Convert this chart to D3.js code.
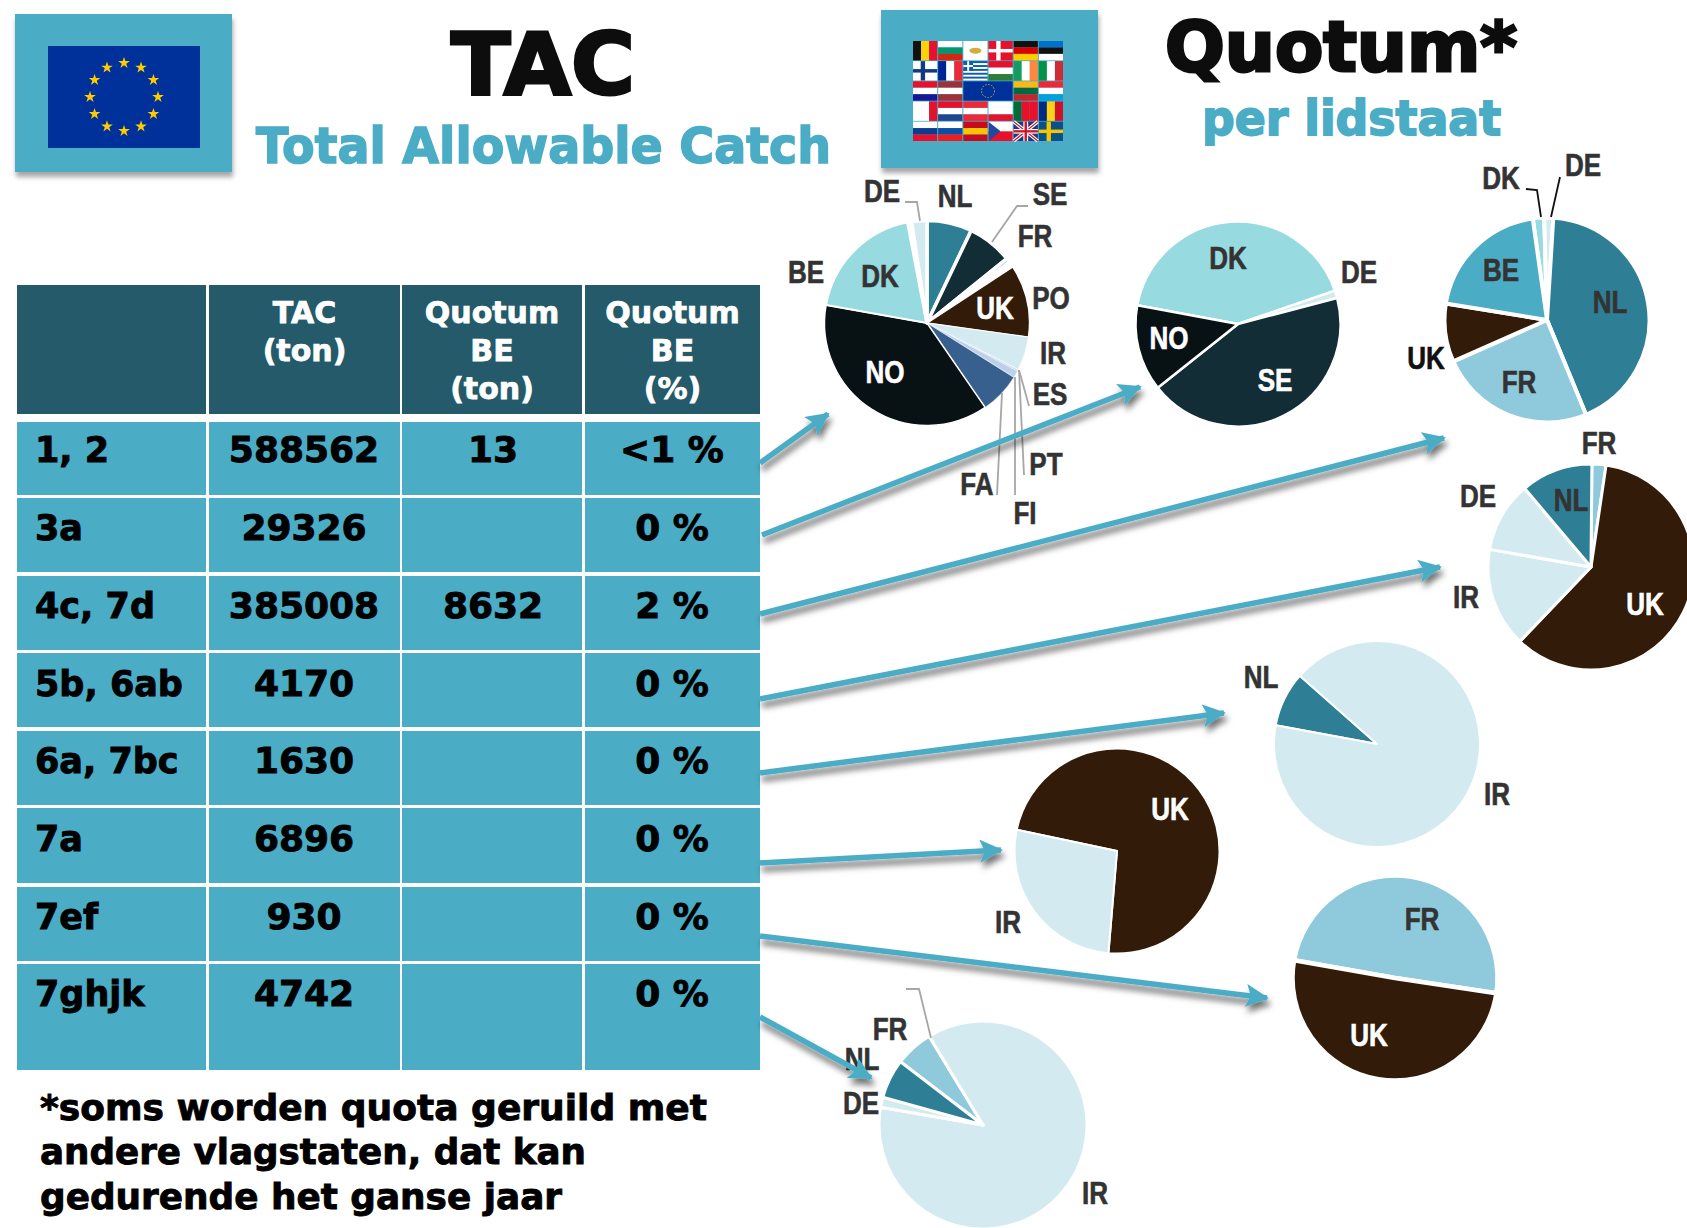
<!DOCTYPE html>
<html>
<head>
<meta charset="utf-8">
<title>TAC en Quotum</title>
<script src="https://cdn.jsdelivr.net/npm/d3@7"></script>
<style>
  html, body { margin: 0; padding: 0; background: #fff; overflow: hidden; }
  svg { display: block; }
  text { font-family: "DejaVu Sans", sans-serif; font-weight: bold; }
  .pieLabel { font-family: "Liberation Sans", sans-serif; font-size: 31px; text-anchor: middle; }
</style>
</head>
<body>
<div class="exampleChart"></div>
<script>
// Table contents
const rowLabels = ["1, 2", "3a", "4c, 7d", "5b, 6ab", "6a, 7bc", "7a", "7ef", "7ghjk"];
const tacTon = ["588562", "29326", "385008", "4170", "1630", "6896", "930", "4742"];
const quotumTon = ["13", "", "8632", "", "", "", "", ""];
const quotumPct = ["<1 %", "0 %", "2 %", "0 %", "0 %", "0 %", "0 %", "0 %"];

// Share per member state (%), clockwise as they appear in each pie
const pie1Labels = ["NL", "SE", "FR", "PO", "UK", "IR", "ES", "PT", "FI", "FA", "NO", "DK", "BE", "DE"];
const pie1Values = [7.1, 7.1, 0.7, 0.9, 11.4, 5.3, 0.1, 0.2, 1.1, 6.5, 37.4, 19.2, 0.6, 2.4];
const pie2Labels = ["DK", "DE", "SE", "NO"];
const pie2Values = [41.8, 1.2, 43.4, 13.6];
const pie3Labels = ["DK", "DE", "NL", "FR", "UK", "BE"];
const pie3Values = [1.8, 1.4, 42.8, 24.6, 9.2, 20.2];
const pie4Labels = ["FR", "UK", "IR", "DE", "NL"];
const pie4Values = [2.2, 59.8, 15.6, 11.1, 11.3];
const pie5Labels = ["NL", "IR"];
const pie5Values = [8.6, 91.4];
const pie6Labels = ["UK", "IR"];
const pie6Values = [73, 27];
const pie7Labels = ["FR", "UK"];
const pie7Values = [49.6, 50.4];
const pie8Labels = ["FR", "IR", "DE", "NL"];
const pie8Values = [5.9, 86.4, 1.6, 6.1];

const sliceColor = {
  NL: "#2e7f96", SE: "#132d37", FR: "#8ecadc", PO: "#ffffff", UK: "#321c09", IR: "#d4eaf1",
  ES: "#d4eaf1", PT: "#bcd0ec", FI: "#bcd0ec", FA: "#38608f", NO: "#081114", DK: "#97dadf",
  DE: "#d4eaf1", BE: "#4bacc6"
};

const svg = d3.select(".exampleChart").append("svg")
  .attr("width", 1687)
  .attr("height", 1228)
  .attr("viewBox", "0 0 1687 1228");

// Drop shadow for the squares and arrows
const defs = svg.append("defs");
defs.append("filter")
  .attr("id", "shadow")
  .attr("x", "-20%").attr("y", "-20%").attr("width", "140%").attr("height", "150%")
  .attr("filterUnits", "objectBoundingBox")
  .append("feDropShadow")
  .attr("dx", 1).attr("dy", 5).attr("stdDeviation", 2.5)
  .attr("flood-color", "#000").attr("flood-opacity", 0.35);

defs.append("filter")
  .attr("id", "arrowShadow")
  .attr("filterUnits", "userSpaceOnUse")
  .attr("x", 0).attr("y", 0).attr("width", 1687).attr("height", 1228)
  .append("feDropShadow")
  .attr("dx", 2).attr("dy", 6).attr("stdDeviation", 3)
  .attr("flood-color", "#000").attr("flood-opacity", 0.55);

defs.append("marker")
  .attr("id", "head")
  .attr("viewBox", "0 0 12 12")
  .attr("refX", 11).attr("refY", 6)
  .attr("markerWidth", 4.2).attr("markerHeight", 4.2)
  .attr("markerUnits", "strokeWidth")
  .attr("orient", "auto")
  .append("path")
  .attr("d", "M0,0L12,6L0,12L2.5,6Z")
  .attr("fill", "#4bacc6");

// Helper for text that has to fit a given width, thickened with a thin stroke
function label(x, y, str, size, fill, width, anchor) {
  const t = svg.append("text")
    .attr("x", x).attr("y", y)
    .attr("font-size", size)
    .attr("fill", fill)
    .attr("stroke", fill)
    .attr("stroke-width", size * 0.025)
    .attr("text-anchor", anchor || "start")
    .text(str);
  if (width) t.attr("textLength", width).attr("lengthAdjust", "spacingAndGlyphs");
  return t;
}

// Header squares
svg.append("rect").attr("x", 15).attr("y", 14).attr("width", 217).attr("height", 158)
  .attr("fill", "#4bacc6").attr("filter", "url(#shadow)");
svg.append("rect").attr("x", 881).attr("y", 10).attr("width", 217).attr("height", 158)
  .attr("fill", "#4bacc6").attr("filter", "url(#shadow)");

// EU flag
svg.append("rect").attr("x", 48).attr("y", 46).attr("width", 152).attr("height", 102).attr("fill", "#00309a");
const star = d3.symbol().type(d3.symbolStar).size(42);
svg.append("g").attr("transform", "translate(124,97)")
  .selectAll("path").data(d3.range(12)).join("path")
  .attr("d", star)
  .attr("fill", "#ffcc00")
  .attr("transform", d => {
    const a = d * Math.PI / 6;
    return `translate(${34 * Math.sin(a)},${-34 * Math.cos(a)})`;
  });

// Flags of the member states
const flagRows = [
  [["v", "#111", "#fbd20c", "#e8112d"], ["h", "#fff", "#00966e", "#d62612"], ["cy", "#fff"], ["dk", "#e8112d"], ["h", "#111", "#dd0000", "#ffce00"], ["h", "#0072ce", "#111", "#fff"]],
  [["fi", "#fff"], ["v", "#002395", "#fff", "#ed2939"], ["gr", "#0d5eaf"], ["h", "#e8112d", "#fff", "#2f7d3a"], ["v", "#169b62", "#fff", "#ff883e"], ["v", "#009246", "#fff", "#ce2b37"]],
  [["h", "#e8112d", "#fff", "#171796"], ["h", "#9e3039", "#fff", "#9e3039"], ["eu", "#00309a"], null, ["h", "#fdb913", "#006a44", "#c1272d"], ["h", "#ed2939", "#fff", "#00a1de"]],
  [["v", "#fff", "#fff", "#e8112d"], ["h", "#e8112d", "#fff", "#21468b"], ["h", "#ed2939", "#fff", "#ed2939"], ["h", "#fff", "#fff", "#e8112d"], ["v", "#046a38", "#e8112d", "#e8112d"], ["v", "#002b7f", "#fcd116", "#ce1126"]],
  [["h", "#fff", "#0f3b8e", "#e8112d"], ["h", "#fff", "#0b4ea2", "#ee1c25"], ["h", "#c60b1e", "#ffc400", "#c60b1e"], ["cz", "#fff"], ["uk", "#1f3a7d"], ["se", "#0a5189"]]
];
const flagX = d3.scaleBand().domain(d3.range(6)).range([913, 1063]).paddingInner(0.04);
const flagY = d3.scaleBand().domain(d3.range(5)).range([41, 141]).paddingInner(0.04);

flagRows.forEach((row, r) => {
  row.forEach((f, c) => {
    if (!f) return;
    const x = flagX(c), y = flagY(r), h = flagY.bandwidth();
    const w = f[0] === "eu" ? flagX.step() * 2 - (flagX.step() - flagX.bandwidth()) : flagX.bandwidth();
    const g = svg.append("g");
    const box = (bx, by, bw, bh, col) => g.append("rect").attr("x", bx).attr("y", by).attr("width", bw).attr("height", bh).attr("fill", col);
    if (f[0] === "h" || f[0] === "v") {
      f.slice(1).forEach((col, i) => {
        if (f[0] === "h") box(x, y + i * h / 3, w, h / 3, col);
        else box(x + i * w / 3, y, w / 3, h, col);
      });
      return;
    }
    box(x, y, w, h, f[1]);
    if (f[0] === "cy") {
      g.append("ellipse").attr("cx", x + w / 2).attr("cy", y + h / 2).attr("rx", 6).attr("ry", 3).attr("fill", "#d9a93a");
    } else if (f[0] === "dk" || f[0] === "fi" || f[0] === "se") {
      const col = f[0] === "dk" ? "#fff" : f[0] === "fi" ? "#123a80" : "#f7c600";
      box(x + w * 0.32, y, w * 0.18, h, col);
      box(x, y + h * 0.41, w, h * 0.18, col);
    } else if (f[0] === "gr") {
      d3.range(0, 5).forEach(i => box(x, y + i * h / 5 + h / 10, w, h / 10, "#fff"));
      box(x, y, w * 0.4, h * 0.5, f[1]);
      box(x + w * 0.16, y, w * 0.08, h * 0.5, "#fff");
      box(x, y + h * 0.2, w * 0.4, h * 0.1, "#fff");
    } else if (f[0] === "eu") {
      g.append("circle").attr("cx", x + w / 2).attr("cy", y + h / 2).attr("r", 6.5)
        .attr("fill", "none").attr("stroke", "#caa93c").attr("stroke-width", 1).attr("stroke-dasharray", "1.5 1.5");
    } else if (f[0] === "cz") {
      box(x, y + h / 2, w, h / 2, "#e8112d");
      g.append("path").attr("d", `M${x},${y}L${x + w / 2},${y + h / 2}L${x},${y + h}Z`).attr("fill", "#1f4aa0");
    } else if (f[0] === "uk") {
      g.append("path").attr("d", `M${x},${y}L${x + w},${y + h}M${x + w},${y}L${x},${y + h}`).attr("stroke", "#fff").attr("stroke-width", 3.5);
      g.append("path").attr("d", `M${x},${y}L${x + w},${y + h}M${x + w},${y}L${x},${y + h}`).attr("stroke", "#cf142b").attr("stroke-width", 1.2);
      box(x + w * 0.4, y, w * 0.2, h, "#fff");
      box(x, y + h * 0.38, w, h * 0.24, "#fff");
      box(x + w * 0.45, y, w * 0.1, h, "#cf142b");
      box(x, y + h * 0.44, w, h * 0.12, "#cf142b");
    }
  });
});

// Titles
label(543, 94, "TAC", 86, "#0d0d0d", 184, "middle").attr("stroke-width", 3);
label(256, 163, "Total Allowable Catch", 50, "#4bacc6", 575).attr("stroke-width", 1.6);
label(1165, 71, "Quotum*", 70, "#0d0d0d", 352).attr("stroke-width", 3);
label(1202, 135, "per lidstaat", 48, "#4bacc6", 299).attr("stroke-width", 1.8);

// Table
const colEdges = [[17, 206], [209, 400], [402, 582], [585, 760]];
const rowEdges = [[422, 495], [498, 572], [576, 650], [653, 727], [731, 805], [808, 883], [887, 961], [964, 1070]];
const rowBase = [462, 540, 618, 696, 773, 851, 929, 1006];
const headRows = [[], ["TAC", "(ton)"], ["Quotum", "BE", "(ton)"], ["Quotum", "BE", "(%)"]];

svg.append("g").selectAll("rect").data(colEdges).join("rect")
  .attr("x", d => d[0]).attr("y", 285)
  .attr("width", d => d[1] - d[0]).attr("height", 129)
  .attr("fill", "#245a6a");

rowEdges.forEach(re => {
  svg.append("g").selectAll("rect").data(colEdges).join("rect")
    .attr("x", d => d[0]).attr("y", re[0])
    .attr("width", d => d[1] - d[0]).attr("height", re[1] - re[0])
    .attr("fill", "#4bacc6");
});

headRows.forEach((lines, c) => {
  const cx = (colEdges[c][0] + colEdges[c][1]) / 2;
  lines.forEach((str, i) => label(cx, 323 + i * 38, str, 30, "#fff", null, "middle"));
});

rowLabels.forEach((str, i) => {
  label(35, rowBase[i], str, 35, "#000");
  label(304, rowBase[i], tacTon[i], 36, "#000", null, "middle");
  label(493, rowBase[i], quotumTon[i], 36, "#000", null, "middle");
  label(672, rowBase[i], quotumPct[i], 36, "#000", null, "middle");
});

// Footnote
label(40, 1120, "*soms worden quota geruild met", 35, "#000", 667);
label(40, 1164, "andere vlagstaten, dat kan", 35, "#000", 546);
label(40, 1209, "gedurende het ganse jaar", 35, "#000", 522);

// Pies
const pies = [
  { labels: pie1Labels, values: pie1Values, cx: 927, cy: 323, r: 102.5, start: 0, gap: 3.5 },
  { labels: pie2Labels, values: pie2Values, cx: 1238, cy: 324, r: 102.5, start: 280.5, gap: 2.5 },
  { labels: pie3Labels, values: pie3Values, cx: 1547, cy: 320, r: 102.5, start: 352, gap: 4 },
  { labels: pie4Labels, values: pie4Values, cx: 1591, cy: 567, r: 103, start: 0.5, gap: 3 },
  { labels: pie5Labels, values: pie5Values, cx: 1377, cy: 744, r: 103, start: 280.5, gap: 2 },
  { labels: pie6Labels, values: pie6Values, cx: 1117, cy: 851, r: 102.5, start: 282, gap: 2 },
  { labels: pie7Labels, values: pie7Values, cx: 1395, cy: 978, r: 102.5, start: 280, gap: 4.5 },
  { labels: pie8Labels, values: pie8Values, cx: 983, cy: 1125, r: 104, start: 307.5, gap: 3 }
];
// The lower part of the first pie has hairline gaps only
const pie1Gaps = { UK: 1.5, IR: 0.8, ES: 0.4, PT: 0.4, FI: 0.4, FA: 0.6, NO: 1.5, DK: 2 };

pies.forEach((p, n) => {
  const a0 = p.start * Math.PI / 180;
  const arcs = d3.pie().sort(null).startAngle(a0).endAngle(a0 + 2 * Math.PI)(p.values);
  const arc = d3.arc().innerRadius(0).outerRadius(p.r);
  svg.append("g")
    .attr("transform", `translate(${p.cx},${p.cy})`)
    .selectAll("path").data(arcs).join("path")
    .attr("d", arc)
    .attr("fill", (d, i) => {
      const name = p.labels[i];
      return name === "BE" && n === 0 ? "#ffffff" : sliceColor[name];
    })
    .attr("stroke", "#fff")
    .attr("stroke-width", (d, i) => (n === 0 && pie1Gaps[p.labels[i]]) || p.gap)
    .attr("stroke-linejoin", "round");
});

// Leader lines
const greyLeaders = [
  [[905, 202], [917, 202], [920, 221]],
  [[1028, 206], [1017, 206], [992, 242]],
  [[1029, 406], [1019, 370]],
  [[1024, 475], [1019, 370]],
  [[1015, 495], [1015, 377]],
  [[997, 495], [1002, 393]],
  [[906, 989], [919, 989], [931, 1038]]
];
const blackLeaders = [
  [[1526, 189], [1537, 190], [1541, 217]],
  [[1560, 177], [1551, 217]]
];
const leaderLine = d3.line();
svg.append("g").selectAll("path").data(greyLeaders).join("path")
  .attr("d", leaderLine).attr("fill", "none").attr("stroke", "#a6a6a6").attr("stroke-width", 1.8);
svg.append("g").selectAll("path").data(blackLeaders).join("path")
  .attr("d", leaderLine).attr("fill", "none").attr("stroke", "#111").attr("stroke-width", 1.8);

// Pie labels: text, centre x, centre y, colour
const dark = "#333333", light = "#ffffff";
const pieLabels = [
  ["DE", 882, 191, dark], ["NL", 955, 196, dark], ["SE", 1050, 194, dark], ["FR", 1035, 236, dark],
  ["BE", 806, 272, dark], ["DK", 880, 276, dark], ["UK", 995, 308, light], ["PO", 1051, 298, dark],
  ["IR", 1053, 353, dark], ["NO", 885, 372, light], ["ES", 1050, 394, dark], ["PT", 1046, 464, dark],
  ["FA", 977, 484, dark], ["FI", 1025, 513, dark],
  ["DK", 1228, 258, dark], ["DE", 1359, 272, dark], ["NO", 1169, 338, light], ["SE", 1275, 380, light],
  ["DK", 1501, 178, dark], ["DE", 1583, 165, dark], ["BE", 1501, 270, dark], ["NL", 1610, 302, dark],
  ["UK", 1426, 358, "#111111"], ["FR", 1519, 382, dark],
  ["FR", 1599, 443, dark], ["DE", 1478, 496, dark], ["NL", 1571, 500, dark], ["IR", 1466, 597, dark], ["UK", 1645, 604, light],
  ["NL", 1261, 677, dark], ["IR", 1497, 794, dark],
  ["IR", 1008, 922, dark], ["UK", 1170, 809, light],
  ["FR", 1422, 919, dark], ["UK", 1369, 1035, light],
  ["FR", 890, 1029, dark], ["NL", 862, 1059, dark], ["DE", 861, 1103, dark], ["IR", 1095, 1193, dark]
];
svg.append("g").selectAll("text").data(pieLabels).join("text")
  .attr("class", "pieLabel")
  .attr("x", d => d[1])
  .attr("y", d => d[2] + 11)
  .attr("fill", d => d[3])
  .attr("stroke", d => d[3])
  .attr("stroke-width", 0.6)
  .text(d => d[0])
  .each(function () {
    // the labels in the picture are set in a condensed face
    d3.select(this)
      .attr("textLength", this.getComputedTextLength() * 0.84)
      .attr("lengthAdjust", "spacingAndGlyphs");
  });

// Arrows from the table rows to the pies
const arrows = [
  [[760, 463], [828, 414]],
  [[762, 535], [1140, 387]],
  [[760, 614], [1444, 438]],
  [[760, 699], [1440, 567]],
  [[760, 773], [1224, 713]],
  [[760, 863], [1001, 850]],
  [[760, 936], [1267, 998]],
  [[760, 1017], [871, 1078]]
];
svg.append("g").attr("filter", "url(#arrowShadow)")
  .selectAll("path").data(arrows).join("path")
  .attr("d", leaderLine)
  .attr("fill", "none")
  .attr("stroke", "#4bacc6")
  .attr("stroke-width", 5.5)
  .attr("marker-end", "url(#head)");
</script>
</body>
</html>
